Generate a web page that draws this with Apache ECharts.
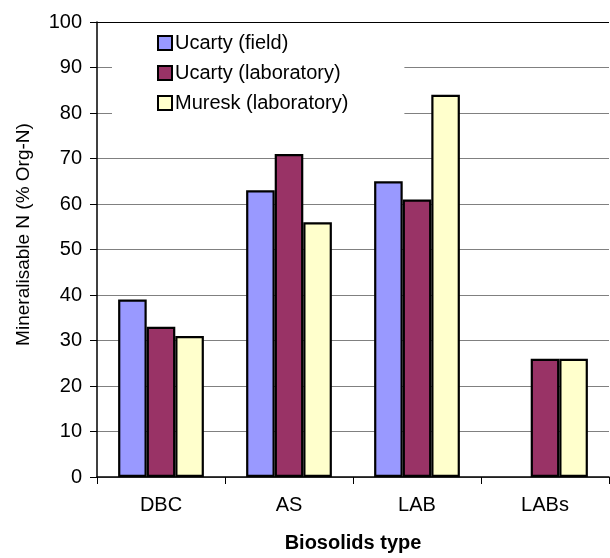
<!DOCTYPE html>
<html>
<head>
<meta charset="utf-8">
<script src="https://cdn.jsdelivr.net/npm/echarts@6/dist/echarts.min.js"></script>
<style>html,body{margin:0;padding:0;background:#fff;}#c{width:610px;height:558px;}</style>
</head>
<body>
<div id="c"></div>
<script>
const categories = ['DBC', 'AS', 'LAB', 'LABs'];
const ucartyField = [39, 63, 65, null];
const ucartyLab = [33, 71, 61, 26];
const mureskLab = [31, 56, 84, 26];
const yTicks = [0, 10, 20, 30, 40, 50, 60, 70, 80, 90, 100];

const FONT = 'Liberation Sans, Arial, sans-serif';
const chart = echarts.init(document.getElementById('c'));
const splitColors = yTicks.map((v, i) => i === yTicks.length - 1 ? '#000' : '#808080');
const barStyle = (c) => ({ color: c, borderColor: '#000', borderWidth: 2.2 });
chart.setOption({
  animation: false,
  backgroundColor: '#fff',
  grid: { left: 97, right: 1, top: 22, bottom: 80 },
  legend: {
    orient: 'vertical',
    left: 112, top: 27,
    padding: [6, 56, 20, 45],
    backgroundColor: '#fff',
    itemWidth: 14, itemHeight: 14, itemGap: 10,
    icon: 'rect',
    textStyle: { fontFamily: FONT, fontSize: 20, color: '#000', lineHeight: 20, padding: [0, 0, 0, -2] },
    data: ['Ucarty (field)', 'Ucarty (laboratory)', 'Muresk (laboratory)']
  },
  xAxis: {
    type: 'category',
    data: categories,
    axisLine: { lineStyle: { color: '#000', width: 1.5 } },
    axisTick: { show: true, length: 7, lineStyle: { color: '#000' } },
    axisLabel: { fontFamily: FONT, fontSize: 20, color: '#000', margin: 18 },
    name: 'Biosolids type',
    nameLocation: 'middle',
    nameGap: 56,
    nameTextStyle: { fontFamily: FONT, fontSize: 20, fontWeight: 'bold', color: '#000' }
  },
  yAxis: {
    type: 'value',
    min: 0, max: 100, interval: 10,
    axisLine: { show: true, lineStyle: { color: '#000', width: 1.5 } },
    axisTick: { show: true, length: 7, lineStyle: { color: '#000' } },
    axisLabel: { fontFamily: FONT, fontSize: 20, color: '#000', margin: 15 },
    splitLine: { show: true, lineStyle: { color: splitColors, width: 1 } },
    name: 'Mineralisable N (% Org-N)',
    nameLocation: 'middle',
    nameGap: 64,
    nameTextStyle: { fontFamily: FONT, fontSize: 19, color: '#000', padding: [0, 0, 0, 30] }
  },
  series: [
    { name: 'Ucarty (field)', type: 'bar', data: ucartyField, barGap: '0%', barCategoryGap: '33%', itemStyle: barStyle('#9999FF') },
    { name: 'Ucarty (laboratory)', type: 'bar', data: ucartyLab, barGap: '0%', barCategoryGap: '33%', itemStyle: barStyle('#993366') },
    { name: 'Muresk (laboratory)', type: 'bar', data: mureskLab, barGap: '0%', barCategoryGap: '33%', itemStyle: barStyle('#FFFFCC') }
  ]
});
</script>
</body>
</html>
